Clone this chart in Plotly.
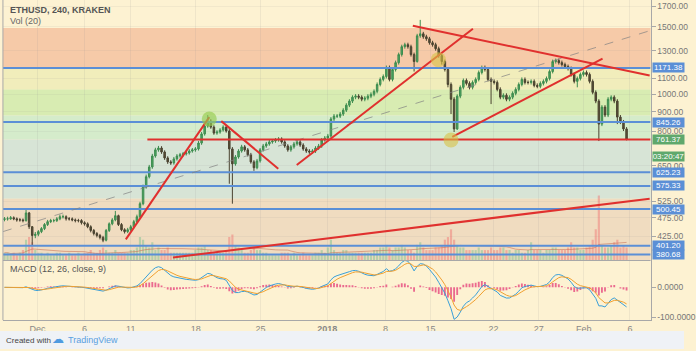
import numpy as np
import pandas as pd
import plotly.graph_objects as go

# ---------------- data (8h bars) ----------------
closes = [472,472,475,472,469,469,467,489,450,427,
          430,437,445,456,464,467,467,472,478,478,
          472,472,469,467,467,461,458,450,440,432,
          427,422,415,440,458,469,481,456,442,437,
          442,450,464,478,517,572,608,645,689,715,
          723,706,681,665,661,677,689,694,698,702,
          710,715,719,745,787,825,850,820,791,796,
          806,820,801,719,657,685,710,728,715,694,
          665,642,669,715,732,741,750,754,759,763,
          750,732,715,728,741,750,736,719,710,706,
          710,723,732,759,768,777,861,876,876,887,
          908,936,959,982,988,982,970,976,988,999,
          1017,1060,1093,1112,1174,1093,1160,1209,1269,1331,
          1347,1331,1269,1217,1421,1438,1413,1396,1363,1347,
          1315,1261,1217,1160,1060,970,811,988,1042,1086,
          1067,1042,1073,1093,1139,1174,1160,1093,1080,1073,
          1029,982,993,970,982,1005,1029,1060,1093,1073,
          1073,1080,1054,1048,1067,1080,1099,1146,1217,1224,
          1209,1195,1181,1167,1126,1080,1099,1126,1139,1126,
          1080,1011,959,835,925,882,970,982,959,871,
          845,811,761.37]
highs = [477,478,480,479,476,474,473,501,492,452,
         436,441,449,460,469,472,472,477,484,484,
         482,477,476,473,472,471,465,462,454,444,
         436,431,426,444,462,474,495,484,460,446,
         447,455,469,484,523,580,616,653,698,724,
         732,731,713,688,672,685,697,702,706,710,
         718,723,727,754,796,835,882,860,829,805,
         815,829,829,810,727,693,718,737,736,723,
         702,672,677,723,741,750,759,763,768,772,
         771,758,740,736,750,759,758,744,727,718,
         718,731,741,768,777,787,871,887,887,898,
         919,947,970,993,1000,1000,993,988,1000,1011,
         1029,1073,1106,1126,1188,1188,1174,1224,1284,1347,
         1363,1363,1347,1284,1438,1564,1455,1430,1412,1379,
         1363,1331,1276,1231,1174,1073,982,999,1054,1099,
         1099,1080,1086,1106,1153,1188,1188,1174,1106,1093,
         1086,1042,1005,1005,993,1017,1042,1073,1106,1106,
         1086,1093,1093,1067,1080,1093,1112,1160,1231,1239,
         1239,1224,1209,1195,1181,1139,1112,1139,1153,1153,
         1139,1093,1023,970,936,936,982,993,993,970,
         882,856,820]
lows = [465,467,469,468,464,464,462,464,444,403,
        420,425,433,441,452,460,462,463,468,473,
        467,467,465,462,462,456,453,446,435,427,
        422,417,410,412,436,454,465,452,438,432,
        433,438,446,460,474,512,566,602,638,682,
        707,698,673,657,653,654,670,682,687,691,
        695,703,707,712,737,779,817,812,783,783,
        788,798,793,583,517,650,678,703,707,687,
        658,630,636,662,708,724,733,742,746,751,
        742,724,707,707,720,733,728,711,702,698,
        698,702,715,724,751,760,769,851,866,866,
        877,898,925,948,970,970,958,958,964,976,
        987,1005,1048,1080,1099,1080,1080,1146,1195,1254,
        1315,1315,1254,1146,1209,1404,1396,1379,1347,1331,
        1299,1246,1195,1146,1042,887,796,806,976,1029,
        1054,1029,1029,1060,1080,1126,1146,1080,942,1060,
        1017,970,970,958,958,970,993,1017,1048,1060,
        1060,1060,1042,1036,1036,1054,1067,1086,1133,1202,
        1195,1181,1167,1153,1112,1067,1042,1086,1112,1112,
        1067,999,947,754,825,871,871,958,947,835,
        835,801,757]
first_open = 470
volumes = [3,3,2,3,2,3,4,8,9,7,
           4,3,3,2,3,2,2,3,3,2,
           2,3,2,2,3,2,3,3,4,3,
           3,4,5,4,3,3,4,3,3,3,
           3,4,4,5,9,8,6,5,7,4,
           5,4,4,5,3,3,3,3,3,3,
           3,3,4,5,5,6,4,4,3,3,
           3,3,4,9,10,6,5,4,3,3,
           4,5,4,4,3,3,2,2,2,2,
           3,3,3,2,3,2,2,3,2,2,
           2,3,3,4,3,5,8,4,3,3,
           4,4,3,3,3,3,3,3,3,3,
           4,4,5,5,6,5,4,5,5,6,
           5,4,4,3,6,7,5,4,4,4,
           5,5,6,8,9,12,8,6,5,5,
           4,4,4,4,5,4,4,4,5,4,
           4,5,5,4,4,3,4,4,3,3,
           4,7,4,4,4,3,4,4,5,5,
           4,4,4,5,7,5,5,4,4,5,
           6,8,12,25,6,5,5,6,7,8,
           5,6,5]

tick_positions = [10.7, 26.0, 41.0, 62.1, 83.1, 104.8, 123.7, 138.3, 158.8, 173.5, 188.1, 203.1]
tick_labels = ['Dec', '6', '11', '18', '25', '<b>2018</b>', '8', '15', '22', '27', 'Feb', '6']

price_ticks = [1700, 1500, 1300, 1100, 1000, 900, 800, 650, 525, 475, 425]
level_prices = [1171.38, 845.26, 625.23, 575.33, 500.45, 401.20, 380.68]
last_price = 761.37
countdown = '03:20:47'

band_low = [1171.38, 1029, 880, 761.37, 533, 360]
band_high = [1490, 1171.38, 1029, 880, 761.37, 533]
band_colors = ['#f6caa8', '#f1edbb', '#d8ecb2', '#d5eccb', '#d7e4d6', '#f0dcc0']

trend_x0 = [39.4, 70.4, 94.9, 132.6, 145.4, 54.7]
trend_p0 = [417, 850, 653, 1509, 773, 374]
trend_x1 = [66.5, 88.9, 152.1, 209.5, 194.2, 209.5]
trend_p1 = [871, 638, 1482, 1119, 1239, 533]
support_x = [46.4, 209.8]
diag_x = [-0.5, 209.5]
diag_p = [437, 1465]

circle_x = [66.5, 140.9, 145.0]
circle_p = [861, 1231, 759]
circle_colors = ['rgba(150,205,80,0.65)', 'rgba(215,195,70,0.6)', 'rgba(215,195,70,0.6)']

# ---------------- derived ----------------
n = len(closes)
x = list(range(n))
opens = [first_open] + closes[:-1]
up = [c >= o for c, o in zip(closes, opens)]
vol_colors = ['rgba(110,190,140,0.45)' if u else 'rgba(240,110,110,0.45)' for u in up]
vol_ma = pd.Series(volumes).rolling(20, min_periods=1).mean()

s = pd.Series(closes, dtype=float)
macd = s.ewm(span=6, adjust=False).mean() - s.ewm(span=13, adjust=False).mean()
signal = macd.ewm(span=4.56, adjust=False).mean()
hist = macd - signal

CREAM = '#fdf2d2'
FONT = 'Liberation Sans'
RED = '#e0302e'
BLUE = '#5b8fd6'

fig = go.Figure()

# volume (base axis)
fig.add_trace(go.Bar(x=x, y=volumes, marker_color=vol_colors, marker_line_width=0,
                     width=0.7, xaxis='x', yaxis='y', hoverinfo='skip'))
fig.add_trace(go.Scatter(x=x, y=vol_ma, mode='lines', line=dict(color='rgba(200,110,80,0.55)', width=1),
                         xaxis='x', yaxis='y', hoverinfo='skip'))

# horizontal levels
for lv in level_prices:
    fig.add_trace(go.Scatter(x=[-0.5, 209.8], y=[lv, lv], mode='lines',
                             line=dict(color=BLUE, width=2), xaxis='x', yaxis='y3', hoverinfo='skip'))

# dashed diagonal
fig.add_trace(go.Scatter(x=diag_x, y=diag_p, mode='lines',
                         line=dict(color='rgba(130,130,130,0.7)', width=1, dash='dash'),
                         xaxis='x', yaxis='y3', hoverinfo='skip'))

# candles
fig.add_trace(go.Candlestick(x=x, open=opens, high=highs, low=lows, close=closes,
                             increasing=dict(line=dict(color='#3d8c4f', width=1), fillcolor='#4ea561'),
                             decreasing=dict(line=dict(color='#4a4330', width=1), fillcolor='#5a5036'),
                             whiskerwidth=0, xaxis='x', yaxis='y3', hoverinfo='skip'))

# red trend lines
for a, b, c, d in zip(trend_x0, trend_p0, trend_x1, trend_p1):
    fig.add_trace(go.Scatter(x=[a, c], y=[b, d], mode='lines', line=dict(color=RED, width=2),
                             xaxis='x', yaxis='y3', hoverinfo='skip'))
fig.add_trace(go.Scatter(x=support_x, y=[last_price, last_price], mode='lines',
                         line=dict(color=RED, width=2), xaxis='x', yaxis='y3', hoverinfo='skip'))

# circles
fig.add_trace(go.Scatter(x=circle_x, y=circle_p, mode='markers',
                         marker=dict(size=15, color=circle_colors, line=dict(width=0)),
                         xaxis='x', yaxis='y3', hoverinfo='skip'))

# MACD pane
fig.add_trace(go.Bar(x=x, y=hist, marker_color='rgba(228,60,120,0.75)', marker_line_width=0,
                     width=0.6, xaxis='x', yaxis='y2', hoverinfo='skip'))
fig.add_trace(go.Scatter(x=x, y=macd, mode='lines', line=dict(color='#3a9fd8', width=1),
                         xaxis='x', yaxis='y2', hoverinfo='skip'))
fig.add_trace(go.Scatter(x=x, y=signal, mode='lines', line=dict(color='#f0a030', width=1),
                         xaxis='x', yaxis='y2', hoverinfo='skip'))

W, H = 696, 351
X0, X1 = 3 / W, 662 / W
main_bot = 1 - 262 / H
macd_bot = 1 - 322 / H

shapes = []
for lo, hi, col in zip(band_low, band_high, band_colors):
    shapes.append(dict(type='rect', xref='x domain', x0=0, x1=1, yref='y3', y0=lo, y1=hi,
                       fillcolor=col, line=dict(width=0), layer='below'))
# pane separators / borders
shapes.append(dict(type='line', xref='paper', yref='paper', x0=X0, x1=X1, y0=main_bot, y1=main_bot,
                   line=dict(color='#a8a8a8', width=1)))
shapes.append(dict(type='line', xref='paper', yref='paper', x0=X0, x1=X0, y0=macd_bot, y1=1,
                   line=dict(color='#a8a8a8', width=1)))
shapes.append(dict(type='rect', xref='paper', yref='paper', x0=0, x1=1, y0=0, y1=18 / H,
                   fillcolor='#eff2f6', line=dict(width=0)))

annotations = []
annotations.append(dict(xref='paper', yref='paper', x=8 / W, y=1 - 10 / H, xanchor='left', yanchor='middle',
                        text='<b>ETHUSD, 240, KRAKEN</b>', showarrow=False,
                        font=dict(family=FONT, size=9, color='#555555')))
annotations.append(dict(xref='paper', yref='paper', x=8 / W, y=1 - 21 / H, xanchor='left', yanchor='middle',
                        text='Vol (20)', showarrow=False, font=dict(family=FONT, size=9, color='#666666')))
annotations.append(dict(xref='paper', yref='paper', x=8 / W, y=1 - 271 / H, xanchor='left', yanchor='middle',
                        text='MACD (12, 26, close, 9)', showarrow=False,
                        font=dict(family=FONT, size=9, color='#555555')))
annotations.append(dict(xref='paper', yref='paper', x=4 / W, y=1 - 342 / H, xanchor='left', yanchor='middle',
                        text='Created with', showarrow=False, font=dict(family=FONT, size=8, color='#444444')))
annotations.append(dict(xref='paper', yref='paper', x=51 / W, y=1 - 341 / H, xanchor='left', yanchor='middle',
                        text='☁', showarrow=False, font=dict(family='DejaVu Sans', size=12, color='#4f9be0')))
annotations.append(dict(xref='paper', yref='paper', x=67 / W, y=1 - 342 / H, xanchor='left', yanchor='middle',
                        text='TradingView', showarrow=False, font=dict(family=FONT, size=9, color='#5aa0e0')))
for lv in level_prices:
    annotations.append(dict(xref='paper', yref='y3', x=663 / W, y=np.log10(lv), xanchor='left', yanchor='middle',
                            text=f'{lv:.2f}', showarrow=False, bgcolor=BLUE, borderpad=0, width=31,
                            font=dict(family=FONT, size=8, color='white')))
annotations.append(dict(xref='paper', yref='y3', x=663 / W, y=np.log10(last_price), xanchor='left',
                        yanchor='middle', text=f'{last_price:.2f}', showarrow=False, bgcolor='#5fa86c',
                        borderpad=0, width=31, font=dict(family=FONT, size=8, color='white')))
annotations.append(dict(xref='paper', yref='y3', x=663 / W, y=np.log10(last_price), yshift=-17, xanchor='left',
                        yanchor='middle', text=countdown, showarrow=False, bgcolor='#5fa86c',
                        borderpad=0, width=31, font=dict(family=FONT, size=8, color='white')))

fig.update_layout(
    width=W, height=H, margin=dict(l=0, r=0, t=0, b=0),
    paper_bgcolor=CREAM, plot_bgcolor=CREAM, showlegend=False, barmode='overlay',
    font=dict(family=FONT, size=9, color='#777777'),
    shapes=shapes, annotations=annotations,
    xaxis=dict(domain=[X0, X1], range=[-0.5, 209.8], anchor='y2', tickvals=tick_positions,
               ticktext=tick_labels, showgrid=True, gridcolor='rgba(150,150,150,0.13)',
               showline=True, linecolor='#a8a8a8', ticks='', zeroline=False,
               tickfont=dict(family=FONT, size=9, color='#888888'),
               rangeslider=dict(visible=False)),
    yaxis=dict(domain=[main_bot, 1], range=[0, 100], visible=False, fixedrange=True),
    yaxis3=dict(overlaying='y', side='right', type='log', anchor='x',
                range=[np.log10(367.2), np.log10(1763)],
                tickvals=price_ticks, ticktext=[f'{p:.2f}' for p in price_ticks],
                showgrid=True, gridcolor='rgba(150,150,150,0.10)', zeroline=False,
                showline=True, linecolor='#a8a8a8', ticks='outside', ticklen=4, tickcolor='#a8a8a8',
                tickfont=dict(family=FONT, size=8.5, color='#777777')),
    yaxis2=dict(domain=[macd_bot, main_bot], range=[-110, 90], side='right', anchor='x',
                tickvals=[0, -100], ticktext=['0.0000', '-100.0000'], showgrid=False, zeroline=False,
                showline=True, linecolor='#a8a8a8', ticks='outside', ticklen=4, tickcolor='#a8a8a8',
                tickfont=dict(family=FONT, size=8.5, color='#777777')),
)

fig.write_html('out.html')
